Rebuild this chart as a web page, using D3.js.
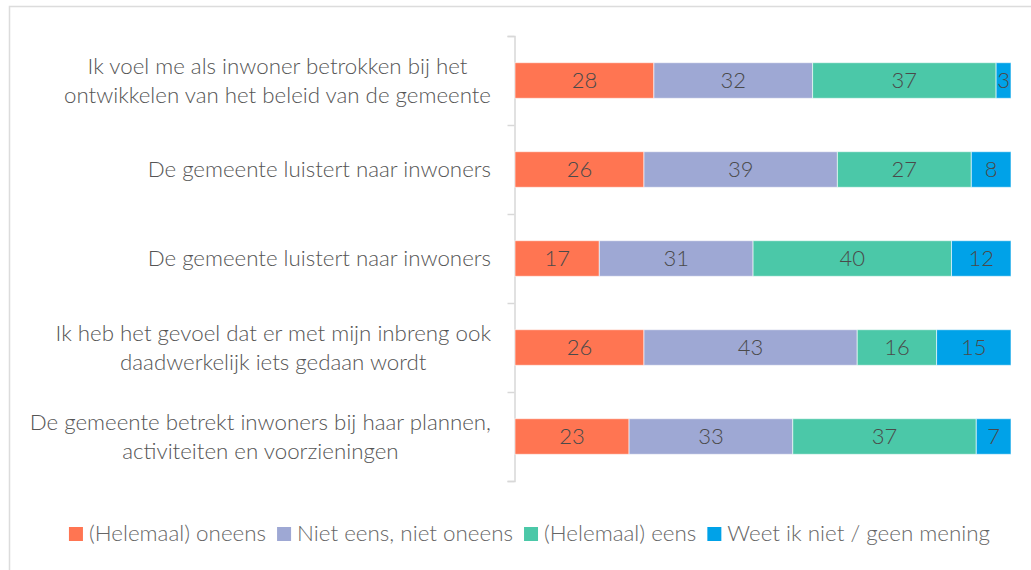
<!DOCTYPE html>
<html>
<head>
<meta charset="utf-8">
<script src="https://cdn.jsdelivr.net/npm/d3@7"></script>
<style>
  body { margin: 0; background: #fff; }
  svg { font-family: "Lato", "Open Sans", sans-serif; font-weight: 300; }
</style>
</head>
<body>
<div id="chart"></div>
<script>
// categories (each label split into its lines)
const categories = [
    ["Ik voel me als inwoner betrokken bij het", "ontwikkelen van het beleid van de gemeente"],
    ["De gemeente luistert naar inwoners"],
    ["De gemeente luistert naar inwoners"],
    ["Ik heb het gevoel dat er met mijn inbreng ook", "daadwerkelijk iets gedaan wordt"],
    ["De gemeente betrekt inwoners bij haar plannen,", "activiteiten en voorzieningen"]
];
const seriesNames = ["(Helemaal) oneens", "Niet eens, niet oneens", "(Helemaal) eens", "Weet ik niet / geen mening"];
const seriesColors = ["#ff7552", "#9ea8d4", "#4bc8a8", "#00a2e8"];

const oneens = [28, 26, 17, 26, 23];
const neutraal = [32, 39, 31, 43, 33];
const eens = [37, 27, 40, 16, 37];
const weetNiet = [3, 8, 12, 15, 7];

const W = 1031, H = 570;
const margin = {top: 36, left: 515, right: 20, bottom: 89};

let svg = d3.select("#chart").append("svg")
    .attr("width", W)
    .attr("height", H);

// frame
svg.append("rect")
    .attr("x", 9.5).attr("y", 6.5)
    .attr("width", W + 20).attr("height", H + 20)
    .attr("fill", "none")
    .attr("stroke", "#dcdcdc")
    .attr("stroke-width", 1.5);

let x = d3.scaleLinear().domain([0, 100]).range([margin.left, W - margin.right]);
let y = d3.scaleBand().domain(d3.range(categories.length))
    .range([margin.top, H - margin.bottom])
    .paddingInner(0.6).paddingOuter(0.3);

// axis with ticks on band boundaries
let yAxis = d3.scaleLinear().domain([0, categories.length]).range([margin.top, H - margin.bottom]);
let axisG = svg.append("g")
    .attr("transform", `translate(${margin.left - 0.5},0)`)
    .call(d3.axisLeft(yAxis).ticks(categories.length).tickSize(7).tickFormat(""));
axisG.selectAll("path, line").attr("stroke", "#d8d8d8").attr("stroke-width", 1.5);

// stack data
let rows = categories.map((c, i) => ({i: i, vals: [oneens[i], neutraal[i], eens[i], weetNiet[i]]}));
let stacked = d3.stack().keys([0, 1, 2, 3]).value((d, k) => d.vals[k])(rows);

let layers = svg.selectAll("g.layer")
    .data(stacked)
    .enter()
    .append("g")
    .attr("class", "layer")
    .attr("fill", (d, k) => seriesColors[k]);

layers.selectAll("rect")
    .data(d => d)
    .enter()
    .append("rect")
    .attr("x", d => x(d[0]))
    .attr("y", d => y(d.data.i))
    .attr("width", d => x(d[1]) - x(d[0]))
    .attr("height", y.bandwidth())
    .attr("stroke", "#ffffff")
    .attr("stroke-opacity", 0.6)
    .attr("stroke-width", 1);

// value labels
layers.selectAll("text")
    .data(d => d)
    .enter()
    .append("text")
    .attr("x", d => (x(d[0]) + x(d[1])) / 2)
    .attr("y", d => y(d.data.i) + y.bandwidth() / 2)
    .attr("dy", "0.36em")
    .attr("text-anchor", "middle")
    .attr("fill", "#4a4a4a")
    .attr("font-size", 22)
    .text(d => d[1] - d[0]);

// category labels, lines centered on the widest line, right edge at 491
const lineH = 29;
categories.forEach((lines, i) => {
    let cy = y(i) + y.bandwidth() / 2;
    let t = svg.append("text")
        .attr("fill", "#555")
        .attr("font-size", 22.3)
        .attr("text-anchor", "middle");
    lines.forEach((l, j) => {
        t.append("tspan")
            .attr("y", cy + (j - (lines.length - 1) / 2) * lineH)
            .attr("dy", "0.35em")
            .text(l);
    });
    let maxW = d3.max(t.selectAll("tspan").nodes(), n => n.getComputedTextLength());
    t.selectAll("tspan").attr("x", 491 - maxW / 2);
});

// legend
let legend = svg.append("g");
let lx = 0;
seriesNames.forEach((name, k) => {
    let g = legend.append("g").attr("transform", `translate(${lx},0)`);
    g.append("rect").attr("x", 0).attr("y", 527).attr("width", 14).attr("height", 14)
        .attr("fill", seriesColors[k]);
    let t = g.append("text").attr("x", 20).attr("y", 541)
        .attr("font-size", 22.4).attr("fill", "#666").text(name);
    lx += 20 + t.node().getComputedTextLength() + 11;
});
let totalW = lx - 11;
legend.attr("transform", `translate(${(71 + 988) / 2 - totalW / 2},0)`);
</script>
</body>
</html>
